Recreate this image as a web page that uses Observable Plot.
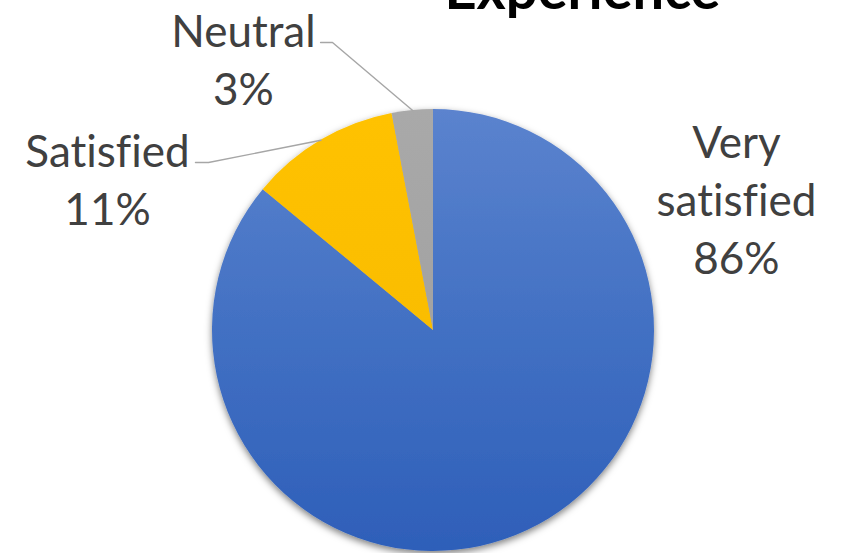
<!DOCTYPE html>
<html><head><meta charset="utf-8">
<script src="https://cdn.jsdelivr.net/npm/d3@7"></script>
<script src="https://cdn.jsdelivr.net/npm/@observablehq/plot@0.6"></script>
<style>html,body{margin:0;padding:0;background:#fff;overflow:hidden}svg{display:block}svg text{font-variant-ligatures:none;font-feature-settings:"liga" 0}</style>
</head><body><div id="chart"></div>
<script>
// ---- data ----
const categories = ["Very satisfied", "Satisfied", "Neutral"];
const values = [86, 11, 3];
const percentLabels = ["86%", "11%", "3%"];
const labelNames = ["Very\nsatisfied", "Satisfied", "Neutral"];
const titleText = "Experience";

// ---- layout (pie units: origin = pie centre, radius = 1, v upward) ----
const labelPos = [{u: 1.371, v: 0.602}, {u: -1.475, v: 0.692}, {u: -0.860, v: 1.235}];
const leaderStart = [null, {u: -1.077, v: 0.760}, {u: -0.511, v: 1.303}];
const leaderElbow = [null, {u: -1.018, v: 0.760}, {u: -0.457, v: 1.303}];
const titlePos = {u: 0.674, v: 1.538};

const W = 846, H = 553;
const fills = ["url(#gBlue)", "url(#gYellow)", "url(#gGray)"];

const slices = categories.map((c, i) => ({category: c, value: values[i], fill: fills[i]}));
const arcs = d3.pie().sort(null).value(d => d.value).startAngle(0).endAngle(2 * Math.PI)(slices);
const mid = a => (a.startAngle + a.endAngle) / 2;

const labels = categories.map((c, i) => ({
  u: labelPos[i].u, v: labelPos[i].v, text: labelNames[i] + "\n" + percentLabels[i]
}));

const leaders = [];
categories.forEach((c, i) => {
  if (!leaderStart[i]) return;
  const m = mid(arcs[i]);
  leaders.push({name: c, u: leaderStart[i].u, v: leaderStart[i].v});
  leaders.push({name: c, u: leaderElbow[i].u, v: leaderElbow[i].v});
  leaders.push({name: c, u: Math.sin(m), v: Math.cos(m)});
});

function pieMark(index, scales) {
  const cx = scales.x(0), cy = scales.y(0);
  const r = scales.x(1) - scales.x(0);
  const g = d3.create("svg:g");
  const defs = g.append("defs");
  const grad = (id, stops) => {
    const lg = defs.append("linearGradient").attr("id", id)
      .attr("gradientUnits", "userSpaceOnUse")
      .attr("x1", 0).attr("x2", 0).attr("y1", -r).attr("y2", r);
    stops.forEach(([o, col]) => lg.append("stop").attr("offset", o).attr("stop-color", col));
  };
  grad("gBlue", [[0, "#5b83ce"], [0.45, "#4472c4"], [1, "#2e5fb9"]]);
  grad("gYellow", [[0, "#ffc200"], [1, "#f5b800"]]);
  grad("gGray", [[0, "#a9a9a9"], [1, "#9b9b9b"]]);
  const f = defs.append("filter").attr("id", "shadow").attr("x", "-10%").attr("y", "-10%").attr("width", "120%").attr("height", "125%");
  f.append("feDropShadow").attr("dx", 0).attr("dy", 3).attr("stdDeviation", 3.5)
    .attr("flood-color", "#000").attr("flood-opacity", 0.5);
  const arc = d3.arc().innerRadius(0).outerRadius(r);
  g.append("g").attr("filter", "url(#shadow)")
    .attr("transform", `translate(${cx},${cy})`)
    .selectAll("path").data(arcs).join("path")
    .attr("d", arc).attr("fill", d => d.data.fill);
  return g.node();
}

const chart = Plot.plot({
  width: W, height: H,
  margin: 0,
  x: {domain: [-433 / 221, (W - 433) / 221], axis: null},
  y: {domain: [(330 - H) / 221, 330 / 221], axis: null},
  marks: [
    pieMark,
    Plot.line(leaders, {x: "u", y: "v", z: "name", stroke: "#a6a6a6", strokeWidth: 1.4}),
    Plot.text(labels, {x: "u", y: "v", text: "text", fontSize: 44, lineHeight: 58 / 44,
      fill: "#404040", fontFamily: "Lato", textAnchor: "middle"}),
    Plot.text([titleText], {x: () => titlePos.u, y: () => titlePos.v, text: d => d,
      fontSize: 56, fontWeight: "bold", fill: "#000", fontFamily: "Lato", textAnchor: "middle"})
  ]
});
document.getElementById("chart").append(chart);
</script>
</body></html>
